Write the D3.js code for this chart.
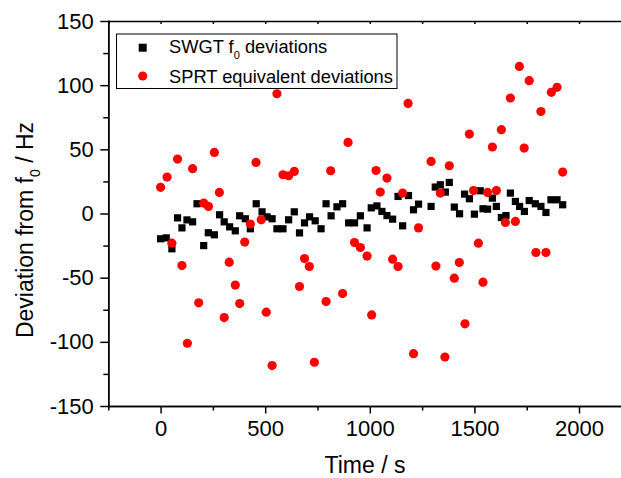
<!DOCTYPE html>
<html>
<head>
<meta charset="utf-8">
<script src="https://cdn.jsdelivr.net/npm/d3@7"></script>
<style>
  html, body { margin: 0; padding: 0; background: #fff; }
  svg { display: block; font-family: "Liberation Sans", Arial, sans-serif; }
</style>
</head>
<body>
<svg id="chart" width="621" height="478"></svg>
<script>
// SWGT f0 deviations (black squares)
const swgtTime = [0, 27, 54, 81, 102, 126, 153, 174, 206, 228, 257, 282, 304, 330, 357, 378, 405, 429, 457, 485,
  509, 533, 556, 585, 612, 639, 664, 688, 712, 739, 767, 791, 815, 843, 870, 899, 927, 955, 987, 1007,
  1034, 1058, 1082, 1109, 1135, 1157, 1185, 1209, 1233, 1293, 1313, 1337, 1361, 1380, 1404, 1429, 1453, 1476, 1500, 1528,
  1541, 1563, 1586, 1605, 1629, 1651, 1672, 1696, 1716, 1739, 1762, 1791, 1818, 1842, 1866, 1895, 1922];
const swgtDev = [-19.7, -19.0, -27.5, -3.4, -11.2, -5.0, -6.5, 7.6, -25.0, -15.0, -16.6, -1.0, -6.5, -10.4, -13.5, -1.8, -4.1, -11.9, 7.6, 1.3,
  -2.6, -4.1, -11.9, -11.9, -4.9, 1.3, -15.1, -7.3, -2.6, -5.7, -11.9, 7.6, -1.8, 5.2, 7.6, -7.3, -7.3, -1.8, -11.2, 4.4,
  5.9, 1.6, -1.6, -4.4, 13.3, -9.6, 14.0, 2.9, 7.3, 5.5, 20.6, 22.4, 16.7, 24.2, 5.0, -0.2, 15.1, 11.5, -0.5, 17.7,
  3.7, 3.4, 12.0, 5.5, -3.1, -1.6, 15.9, 9.4, 5.5, 1.6, 10.1, 7.6, 5.5, 0.8, 10.7, 10.7, 6.8];

// SPRT equivalent deviations (red circles)
const sprtTime = [0, 31, 54, 81, 102, 128, 153, 182, 206, 229, 257, 281, 304, 328, 357, 378, 402, 429, 456, 481,
  505, 533, 556, 585, 612, 639, 664, 688, 711, 735, 791, 813, 870, 896, 927, 955, 987, 1009, 1030, 1050,
  1082, 1109, 1135, 1157, 1183, 1209, 1233, 1293, 1316, 1337, 1359, 1380, 1404, 1428, 1455, 1476, 1496, 1519, 1541, 1563,
  1586, 1605, 1629, 1648, 1672, 1696, 1715, 1738, 1762, 1794, 1818, 1842, 1868, 1895, 1922];
const sprtDev = [20.4, 28.4, -23.1, 42.4, -40.6, -101.1, 34.9, -69.6, 8.1, 5.5, 47.6, 16.4, -81.1, -37.9, -55.8, -70.2, -22.3, -8.2, 39.8, -4.9,
  -76.9, -118.5, 93.3, 30.2, 29.4, 32.8, -56.9, -35.1, -41.3, -115.9, -68.6, 33.3, -62.4, 55.4, -22.6, -26.5, -33.2, -79.0, 33.5, 16.7,
  27.6, -35.6, -41.3, 15.9, 85.8, -109.2, -11.2, 40.6, -41.0, 15.9, -111.8, 37.2, -50.4, -38.2, -86.0, 61.9, 17.9, -23.1, -53.5, 16.4,
  51.8, 17.9, 65.3, -7.0, 90.0, -6.2, 114.6, 51.0, 103.5, -30.4, 79.5, -30.4, 94.4, 98.3, 32.3];

const xMajorTicks = [0, 500, 1000, 1500, 2000];
const xMinorTicks = [-250, 250, 750, 1250, 1750, 2250];
const yMajorTicks = [-150, -100, -50, 0, 50, 100, 150];
const yMinorTicks = [-125, -75, -25, 25, 75, 125];

const svg = d3.select("#chart");
const x = d3.scaleLinear().domain([-250, 2250]).range([108.3, 631.3]);
const y = d3.scaleLinear().domain([-150, 150]).range([406, 21]);

const font = 'Liberation Sans, Arial, sans-serif';
const fmt = d => String(d);

// top axis (inward small ticks, no labels)
const topAxis = svg.append("g").attr("transform", `translate(0,${y(150)})`)
  .call(d3.axisTop(x).tickValues(d3.merge([xMajorTicks, xMinorTicks])).tickSize(-3).tickSizeOuter(0).tickFormat(""));
topAxis.selectAll("path, line").attr("stroke", "#000").attr("stroke-width", 1.5);

// bottom axis minor ticks
const bMinor = svg.append("g").attr("transform", `translate(0,${y(-150)})`)
  .call(d3.axisBottom(x).tickValues(xMinorTicks).tickSize(4.5).tickSizeOuter(0).tickFormat(""));
bMinor.selectAll("path, line").attr("stroke", "#000").attr("stroke-width", 1.5);
// bottom axis major
const bAxis = svg.append("g").attr("transform", `translate(0,${y(-150)})`)
  .call(d3.axisBottom(x).tickValues(xMajorTicks).tickSize(7.5).tickSizeOuter(0).tickPadding(7).tickFormat(fmt));
bAxis.selectAll("path, line").attr("stroke", "#000").attr("stroke-width", 1.5);
bAxis.selectAll("text").attr("font-size", 22).attr("font-family", font).attr("fill", "#000");

// left axis minor
const lMinor = svg.append("g").attr("transform", `translate(${x(-250)},0)`)
  .call(d3.axisLeft(y).tickValues(yMinorTicks).tickSize(5).tickSizeOuter(0).tickFormat(""));
lMinor.selectAll("path, line").attr("stroke", "#000").attr("stroke-width", 1.5);
const lAxis = svg.append("g").attr("transform", `translate(${x(-250)},0)`)
  .call(d3.axisLeft(y).tickValues(yMajorTicks).tickSize(8).tickSizeOuter(0).tickPadding(6.5).tickFormat(fmt));
lAxis.selectAll("path, line").attr("stroke", "#000").attr("stroke-width", 1.5);
lAxis.selectAll("text").attr("font-size", 22).attr("font-family", font).attr("fill", "#000");
svg.selectAll(".domain").attr("stroke-linecap", "square");

// data: black squares
const sq = 7.2;
svg.append("g").selectAll("rect").data(swgtTime.map((t, i) => [t, swgtDev[i]])).join("rect")
  .attr("x", d => x(d[0]) - sq / 2).attr("y", d => y(d[1]) - sq / 2)
  .attr("width", sq).attr("height", sq).attr("fill", "#000");

// data: red circles
svg.append("g").selectAll("circle").data(sprtTime.map((t, i) => [t, sprtDev[i]])).join("circle")
  .attr("cx", d => x(d[0])).attr("cy", d => y(d[1])).attr("r", 4.6).attr("fill", "#ff0000");

// legend
const lg = svg.append("g");
lg.append("rect").attr("x", 116.5).attr("y", 34).attr("width", 280.5).attr("height", 54.5)
  .attr("fill", "#fff").attr("stroke", "#000").attr("stroke-width", 1);
lg.append("rect").attr("x", 142.7 - 4).attr("y", 47.7 - 4).attr("width", 8).attr("height", 8).attr("fill", "#000");
lg.append("circle").attr("cx", 142.7).attr("cy", 76).attr("r", 4.6).attr("fill", "#ff0000");
const t1 = lg.append("text").attr("x", 169).attr("y", 53.3).attr("font-size", 18.3).attr("font-family", font).attr("fill", "#000");
t1.append("tspan").text("SWGT f");
t1.append("tspan").attr("font-size", 11).attr("dy", 5.5).text("0");
t1.append("tspan").attr("dy", -5.5).text(" deviations");
lg.append("text").attr("x", 169).attr("y", 82.7).attr("font-size", 18.3).attr("font-family", font).attr("fill", "#000")
  .text("SPRT equivalent deviations");

// axis titles
svg.append("text").attr("x", 365).attr("y", 472.7).attr("text-anchor", "middle")
  .attr("font-size", 23).attr("font-family", font).attr("fill", "#000").text("Time / s");
const yt = svg.append("text").attr("transform", "translate(33,230) rotate(-90)").attr("text-anchor", "middle")
  .attr("font-size", 23).attr("font-family", font).attr("fill", "#000");
yt.append("tspan").text("Deviation from f");
yt.append("tspan").attr("font-size", 14).attr("dy", 7).text("0");
yt.append("tspan").attr("dy", -7).text(" / Hz");
</script>
</body>
</html>
